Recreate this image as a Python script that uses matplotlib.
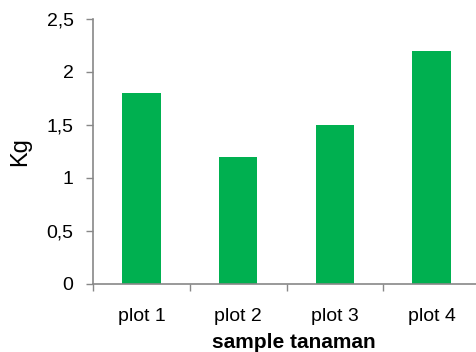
import numpy as np
import matplotlib.pyplot as plt
from matplotlib.ticker import FixedLocator, FuncFormatter

plt.rcParams['font.family'] = ['Liberation Sans', 'DejaVu Sans']

# data
categories = ["plot 1", "plot 2", "plot 3", "plot 4"]
values = [1.8, 1.2, 1.5, 2.2]

fig = plt.figure(figsize=(4.77, 3.52), dpi=100)
ax = fig.add_axes([93 / 477, 68 / 352, 387 / 477, 265 / 352])

x = np.arange(len(categories))
ax.bar(x, values, width=0.4, color="#00B050", zorder=2)

ax.set_xlim(-0.5, len(categories) - 0.5)
ax.set_ylim(0, 2.5)
ax.set_yticks(np.arange(0, 2.51, 0.5))
ax.yaxis.set_major_formatter(FuncFormatter(lambda v, p: ("%g" % v).replace(".", ",")))

ax.set_xticks(x)
ax.set_xticklabels(categories)
ax.xaxis.set_minor_locator(FixedLocator(np.arange(-0.5, len(categories), 1.0)))
ax.tick_params(axis="x", which="major", length=0, pad=17, labelsize=14)
ax.tick_params(axis="x", which="minor", length=5, color="#888888", width=1)
ax.tick_params(axis="y", length=5, color="#888888", width=1, labelsize=14, pad=9)

for s in ["top", "right"]:
    ax.spines[s].set_visible(False)
for s in ["left", "bottom"]:
    ax.spines[s].set_color("#888888")
    ax.spines[s].set_linewidth(1.2)

ax.set_ylabel("Kg", fontsize=17)
ax.yaxis.set_label_coords(-62 / 387, 0.5)
ax.set_xlabel("sample tanaman", fontsize=15, fontweight="bold")
ax.xaxis.set_label_coords(201 / 387, -49 / 265)

fig.savefig("out.png", dpi=100)
